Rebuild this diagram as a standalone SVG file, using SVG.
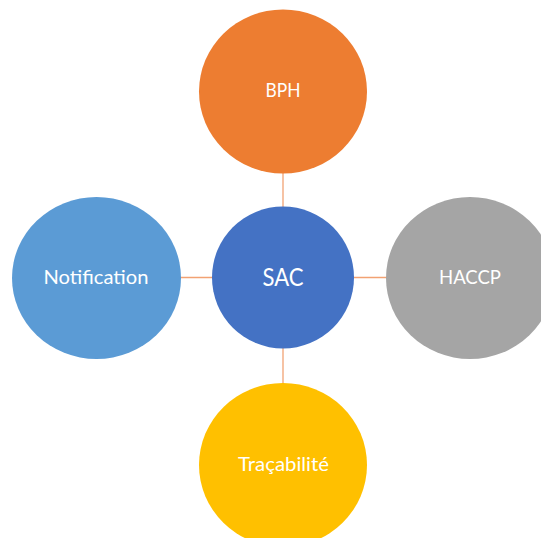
<svg xmlns="http://www.w3.org/2000/svg" width="541" height="538" viewBox="0 0 541 538">
<style>
.lbl{font-family:Lato,"Open Sans","Liberation Sans",sans-serif;fill:#ffffff;text-anchor:middle}
.s{font-size:20px}
.b{font-size:25px}
.c{stroke:#F2A273;stroke-width:1.3;fill:none}
</style>
<rect width="541" height="538" fill="#ffffff"/>
<g id="connectors">
<line class="c" x1="283" y1="172" x2="283" y2="208"/>
<line class="c" x1="180" y1="277.5" x2="213" y2="277.5"/>
<line class="c" x1="353" y1="277.5" x2="387" y2="277.5"/>
<line class="c" x1="283" y1="347" x2="283" y2="384"/>
</g>
<g id="bph">
<ellipse cx="283" cy="91.5" rx="84" ry="82" fill="#ED7D31"/>
<text class="lbl s" x="283" y="97" textLength="35" lengthAdjust="spacingAndGlyphs">BPH</text>
</g>
<g id="notification">
<ellipse cx="96.5" cy="278" rx="84.5" ry="81" fill="#5B9BD5"/>
<text class="lbl s" x="96" y="284" textLength="105" lengthAdjust="spacingAndGlyphs">Notification</text>
</g>
<g id="sac">
<ellipse cx="283" cy="277.5" rx="71" ry="71" fill="#4472C4"/>
<text class="lbl b" x="283" y="286" textLength="41" lengthAdjust="spacingAndGlyphs">SAC</text>
</g>
<g id="haccp">
<ellipse cx="470" cy="278" rx="84" ry="81" fill="#A5A5A5"/>
<text class="lbl s" x="470" y="284" textLength="62" lengthAdjust="spacingAndGlyphs">HACCP</text>
</g>
<g id="tracabilite">
<ellipse cx="283" cy="465" rx="84" ry="82" fill="#FFC000"/>
<text class="lbl s" x="283.5" y="471" textLength="91" lengthAdjust="spacingAndGlyphs">Traçabilité</text>
</g>
</svg>
